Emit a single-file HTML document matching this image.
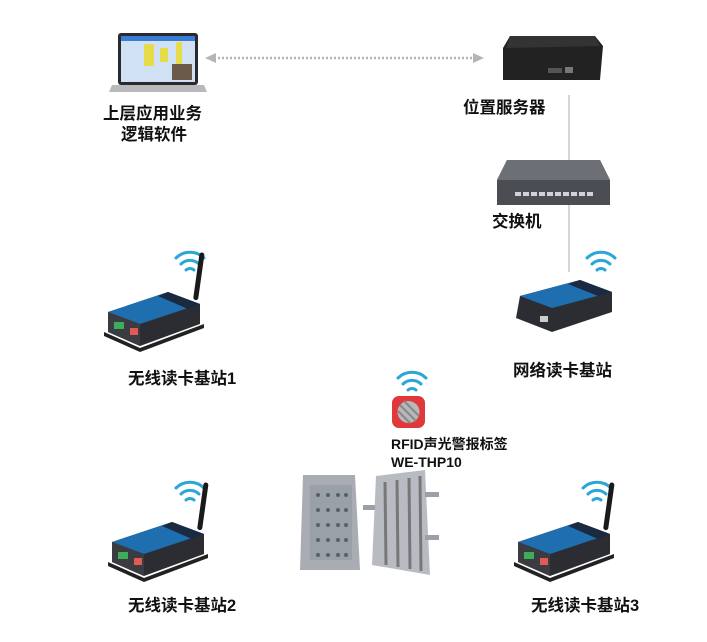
<!DOCTYPE html>
<html><head><meta charset="utf-8"><style>
html,body{margin:0;padding:0;background:#fff;}
svg{display:block}
text{font-family:"Liberation Sans","Noto Sans CJK SC",sans-serif;font-weight:bold;fill:#111;}
</style></head><body>
<svg width="707" height="642" viewBox="0 0 707 642" xmlns="http://www.w3.org/2000/svg">
<defs>
<g id="wifi" fill="none" stroke="#2aa6d8" stroke-width="3" stroke-linecap="round">
<path d="M-14,-4 A20,20 0 0 1 14,-4"/>
<path d="M-9,2 A13,13 0 0 1 9,2"/>
<path d="M-4,8 A6,6 0 0 1 4,8"/>
</g>
<g id="bs">
<path d="M0,40 L60,20 L92,32 L92,52 L32,74 L0,60 Z" fill="#2b2d33"/>
<path d="M0,40 L60,20 L92,32 L32,52 Z" fill="#1f6fb0"/>
<path d="M50,24 L60,20 L92,32 L80,37 Z" fill="#1a2a40"/>
<path d="M0,40 L32,52 L32,74 L0,60 Z" fill="#3a3c42"/>
<rect x="6" y="50" width="10" height="7" fill="#3cae5a"/>
<rect x="22" y="56" width="8" height="7" fill="#e25a55"/>
<path d="M-4,60 L32,76 L96,52 L96,56 L32,80 L-4,64 Z" fill="#222"/>
<rect x="85" y="-20" width="5" height="48" rx="2.5" fill="#1a1a1a" transform="rotate(8 87 28)"/>
</g>
</defs>

<!-- laptop -->
<rect x="118" y="33" width="80" height="52" rx="3" fill="#2a2a2e"/>
<rect x="121" y="36" width="74" height="46" fill="#cfe1f3"/>
<rect x="121" y="36" width="74" height="5" fill="#3a7bd5"/>
<rect x="144" y="44" width="10" height="22" fill="#e6dc4a"/>
<rect x="160" y="48" width="8" height="14" fill="#e6dc4a"/>
<rect x="176" y="42" width="6" height="22" fill="#e6dc4a"/>
<rect x="172" y="64" width="20" height="16" fill="#6b5a4a"/>
<path d="M112,85 L204,85 L207,92 L109,92 Z" fill="#b8b9bd"/>
<text x="103" y="119" font-size="16.5">上层应用业务</text>
<text x="121" y="140" font-size="16.5">逻辑软件</text>

<!-- dotted arrow -->
<line x1="214" y1="58" x2="476" y2="58" stroke="#b5b5b5" stroke-width="2.5" stroke-dasharray="2,2"/>
<path d="M205,58 L216,53 L216,63 Z" fill="#b5b5b5"/>
<path d="M484,58 L473,53 L473,63 Z" fill="#b5b5b5"/>

<!-- server -->
<path d="M510,36 L595,36 L603,46 L600,80 L503,80 L503,48 Z" fill="#222"/>
<path d="M510,36 L595,36 L600,46 L506,48 Z" fill="#333"/>
<rect x="548" y="68" width="14" height="5" fill="#555"/>
<rect x="565" y="67" width="8" height="6" fill="#777"/>
<text x="463" y="113" font-size="16.5">位置服务器</text>

<line x1="569" y1="95" x2="569" y2="272" stroke="#c8c8c8" stroke-width="1.5"/>

<!-- switch -->
<path d="M507,160 L600,160 L610,180 L610,205 L497,205 L497,180 Z" fill="#55585e"/>
<path d="M507,160 L600,160 L610,180 L497,180 Z" fill="#6c6f75"/>
<rect x="497" y="180" width="113" height="25" fill="#4a4d52"/>
<g fill="#cfd3d8">
<rect x="515" y="192" width="6" height="4"/><rect x="523" y="192" width="6" height="4"/><rect x="531" y="192" width="6" height="4"/><rect x="539" y="192" width="6" height="4"/><rect x="547" y="192" width="6" height="4"/><rect x="555" y="192" width="6" height="4"/><rect x="563" y="192" width="6" height="4"/><rect x="571" y="192" width="6" height="4"/><rect x="579" y="192" width="6" height="4"/><rect x="587" y="192" width="6" height="4"/>
</g>
<text x="492" y="227" font-size="16.5">交换机</text>

<!-- network base station -->
<use href="#wifi" x="601" y="262"/>
<path d="M520,296 L580,280 L612,292 L612,312 L552,332 L516,318 Z" fill="#2b2d33"/>
<path d="M520,296 L580,280 L612,292 L552,308 Z" fill="#1f6fb0"/>
<path d="M568,284 L580,280 L612,292 L598,296 Z" fill="#1a2a40"/>
<rect x="540" y="316" width="8" height="6" fill="#ccc"/>
<text x="513" y="376" font-size="16.5">网络读卡基站</text>

<!-- BS1 -->
<use href="#wifi" x="190" y="262"/>
<use href="#bs" x="108" y="272"/>
<text x="128" y="384" font-size="16.5">无线读卡基站1</text>

<!-- tag -->
<use href="#wifi" x="412" y="382"/>
<rect x="392" y="396" width="33" height="32" rx="7" fill="#e0393b"/>
<circle cx="408.5" cy="412" r="11" fill="#b8b8bc"/>
<path d="M400,405 L416,421 M398,411 L410,423 M404,401 L419,416" stroke="#888" stroke-width="2"/>
<text x="391" y="449" font-size="14">RFID声光警报标签</text>
<text x="391" y="467" font-size="14" font-family="Liberation Mono">WE-THP10</text>

<!-- mold -->
<path d="M303,475 L355,475 L360,570 L300,570 Z" fill="#a9adb3"/>
<rect x="310" y="485" width="42" height="75" fill="#9aa0a8"/>
<g fill="#5a5f66">
<circle cx="318" cy="495" r="2"/><circle cx="328" cy="495" r="2"/><circle cx="338" cy="495" r="2"/><circle cx="346" cy="495" r="2"/>
<circle cx="318" cy="510" r="2"/><circle cx="328" cy="510" r="2"/><circle cx="338" cy="510" r="2"/><circle cx="346" cy="510" r="2"/>
<circle cx="318" cy="525" r="2"/><circle cx="328" cy="525" r="2"/><circle cx="338" cy="525" r="2"/><circle cx="346" cy="525" r="2"/>
<circle cx="318" cy="540" r="2"/><circle cx="328" cy="540" r="2"/><circle cx="338" cy="540" r="2"/><circle cx="346" cy="540" r="2"/>
<circle cx="318" cy="555" r="2"/><circle cx="328" cy="555" r="2"/><circle cx="338" cy="555" r="2"/><circle cx="346" cy="555" r="2"/>
</g>
<path d="M376,476 L425,470 L430,575 L372,565 Z" fill="#b8bcc2"/>
<g stroke="#777" stroke-width="3">
<line x1="385" y1="482" x2="386" y2="565"/><line x1="397" y1="480" x2="398" y2="567"/><line x1="409" y1="478" x2="410" y2="569"/><line x1="420" y1="476" x2="421" y2="571"/>
</g>
<rect x="363" y="505" width="12" height="5" fill="#9aa0a8"/><rect x="425" y="492" width="14" height="5" fill="#9aa0a8"/><rect x="425" y="535" width="14" height="5" fill="#9aa0a8"/>

<!-- BS2 -->
<use href="#wifi" x="190" y="492"/>
<use href="#bs" x="112" y="502"/>
<text x="128" y="611" font-size="16.5">无线读卡基站2</text>

<!-- BS3 -->
<use href="#wifi" x="597" y="492"/>
<use href="#bs" x="518" y="502"/>
<text x="531" y="611" font-size="16.5">无线读卡基站3</text>
</svg>
</body></html>
